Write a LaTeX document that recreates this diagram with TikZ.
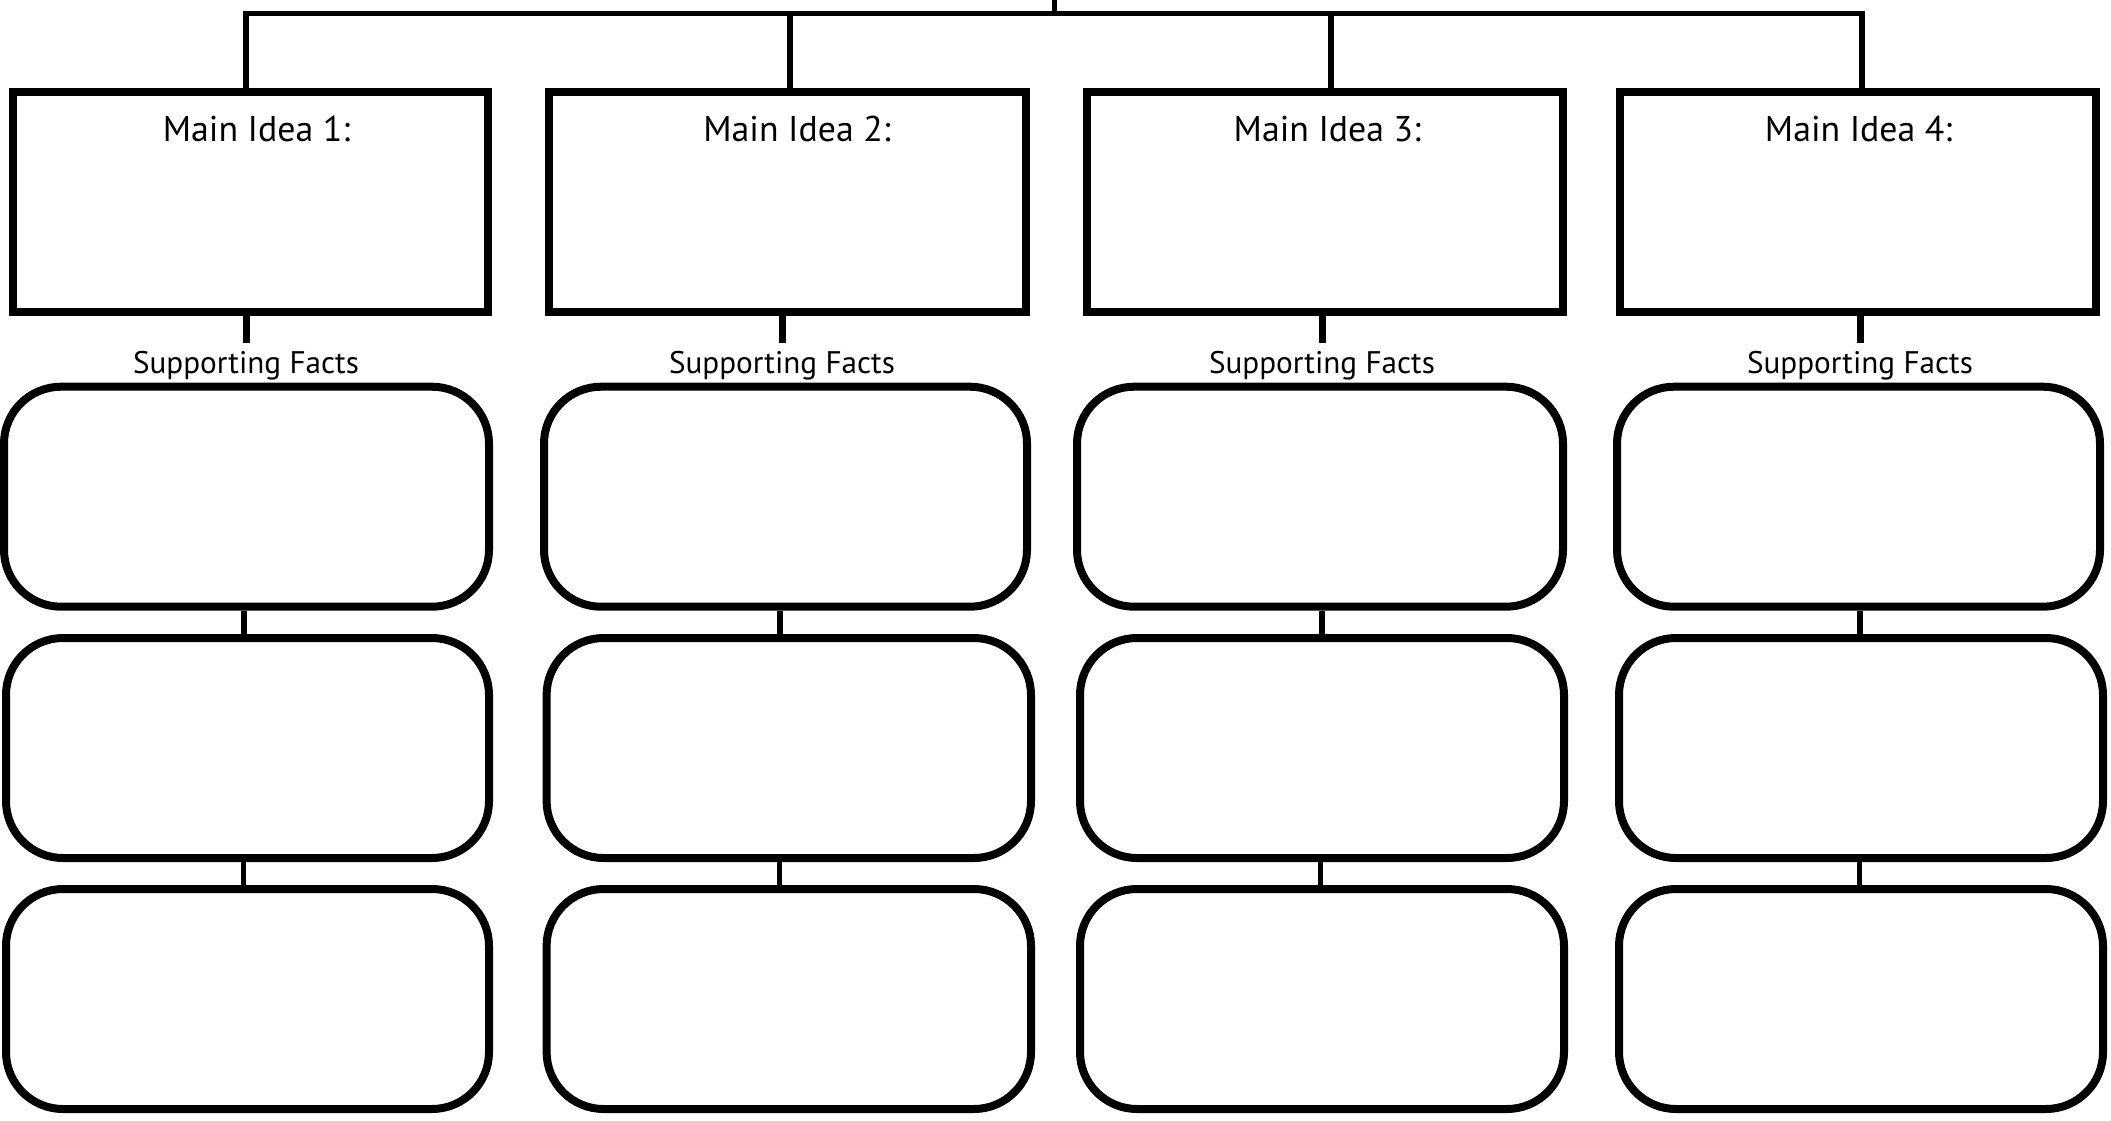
\documentclass[tikz,border=0pt]{standalone}
\usepackage{fontspec}
\setmainfont{PT Sans}
\begin{document}
\begin{tikzpicture}[x=0.5pt,y=-0.5pt,
  mainbox/.style={draw, line width=4pt, inner sep=0pt, rectangle},
  factbox/.style={draw, line width=4pt, inner sep=0pt, rectangle, rounded corners=28.5pt},
  maintext/.style={anchor=base, inner sep=0pt, font=\fontsize{17.9}{20}\selectfont},
  facttext/.style={anchor=base, inner sep=0pt, font=\fontsize{15.6}{18}\selectfont},
  dropline/.style={line width=2.75pt, line join=miter},
  stubline/.style={line width=3.5pt},
  linkA/.style={line width=3pt},
  linkB/.style={line width=2.5pt}]
\useasboundingbox (0,0) rectangle (2111,1120);
\foreach \i/\ml/\mr/\tx/\dx/\sx/\cx/\aL/\aR/\bL/\bR in {
  1/12.7/488/256.5/246/246/244/4/489/6/489,
  2/549/1026/797/790/782/780/544/1027/546.6/1031,
  3/1087/1563/1327.4/1331/1322/1321.5/1077/1563/1080/1564,
  4/1619.5/2095.5/1858.6/1862/1860/1860/1617/2100/1619/2103}{
  \pgfmathsetmacro\mw{(\mr-\ml)/2}
  \pgfmathsetmacro\mc{(\ml+\mr)/2}
  \pgfmathsetmacro\aw{(\aR-\aL)/2}
  \pgfmathsetmacro\ac{(\aL+\aR)/2}
  \pgfmathsetmacro\bw{(\bR-\bL)/2}
  \pgfmathsetmacro\bc{(\bL+\bR)/2}
  \node[mainbox, minimum width=\mw pt, minimum height=110pt] (m\i) at (\mc,202) {};
  \node[maintext] (t\i) at (\tx,141.7) {Main Idea \i:};
  \node[factbox, minimum width=\aw pt, minimum height=110pt] (ra\i) at (\ac,496.7) {};
  \node[factbox, minimum width=\bw pt, minimum height=110pt] (rb\i) at (\bc,748) {};
  \node[factbox, minimum width=\bw pt, minimum height=110pt] (rc\i) at (\bc,999) {};
  \node[facttext] (s\i) at (\sx,373) {Supporting Facts};
  \coordinate (d\i) at (\dx,13.5);
  \coordinate (st\i) at (\sx,343);
  \coordinate (cx\i) at (\cx,0);
  \draw[stubline] (m\i.south -| st\i) -- (st\i);
  \draw[linkA] (ra\i.south -| cx\i) -- (rb\i.north -| cx\i);
  \draw[linkB] ([xshift=-0.5pt]rb\i.south -| cx\i) -- ([xshift=-0.5pt]rc\i.north -| cx\i);
}
\coordinate (topend) at (1054.7,-2);
\coordinate (topjoin) at (1054.7,13.5);
\draw[dropline] (d1 |- m1.north) -- (d1) -- (d4) -- (d4 |- m4.north);
\draw[dropline] (d2) -- (d2 |- m2.north);
\draw[dropline] (d3) -- (d3 |- m3.north);
\draw[dropline] (topend) -- (topjoin);
\end{tikzpicture}
\end{document}
